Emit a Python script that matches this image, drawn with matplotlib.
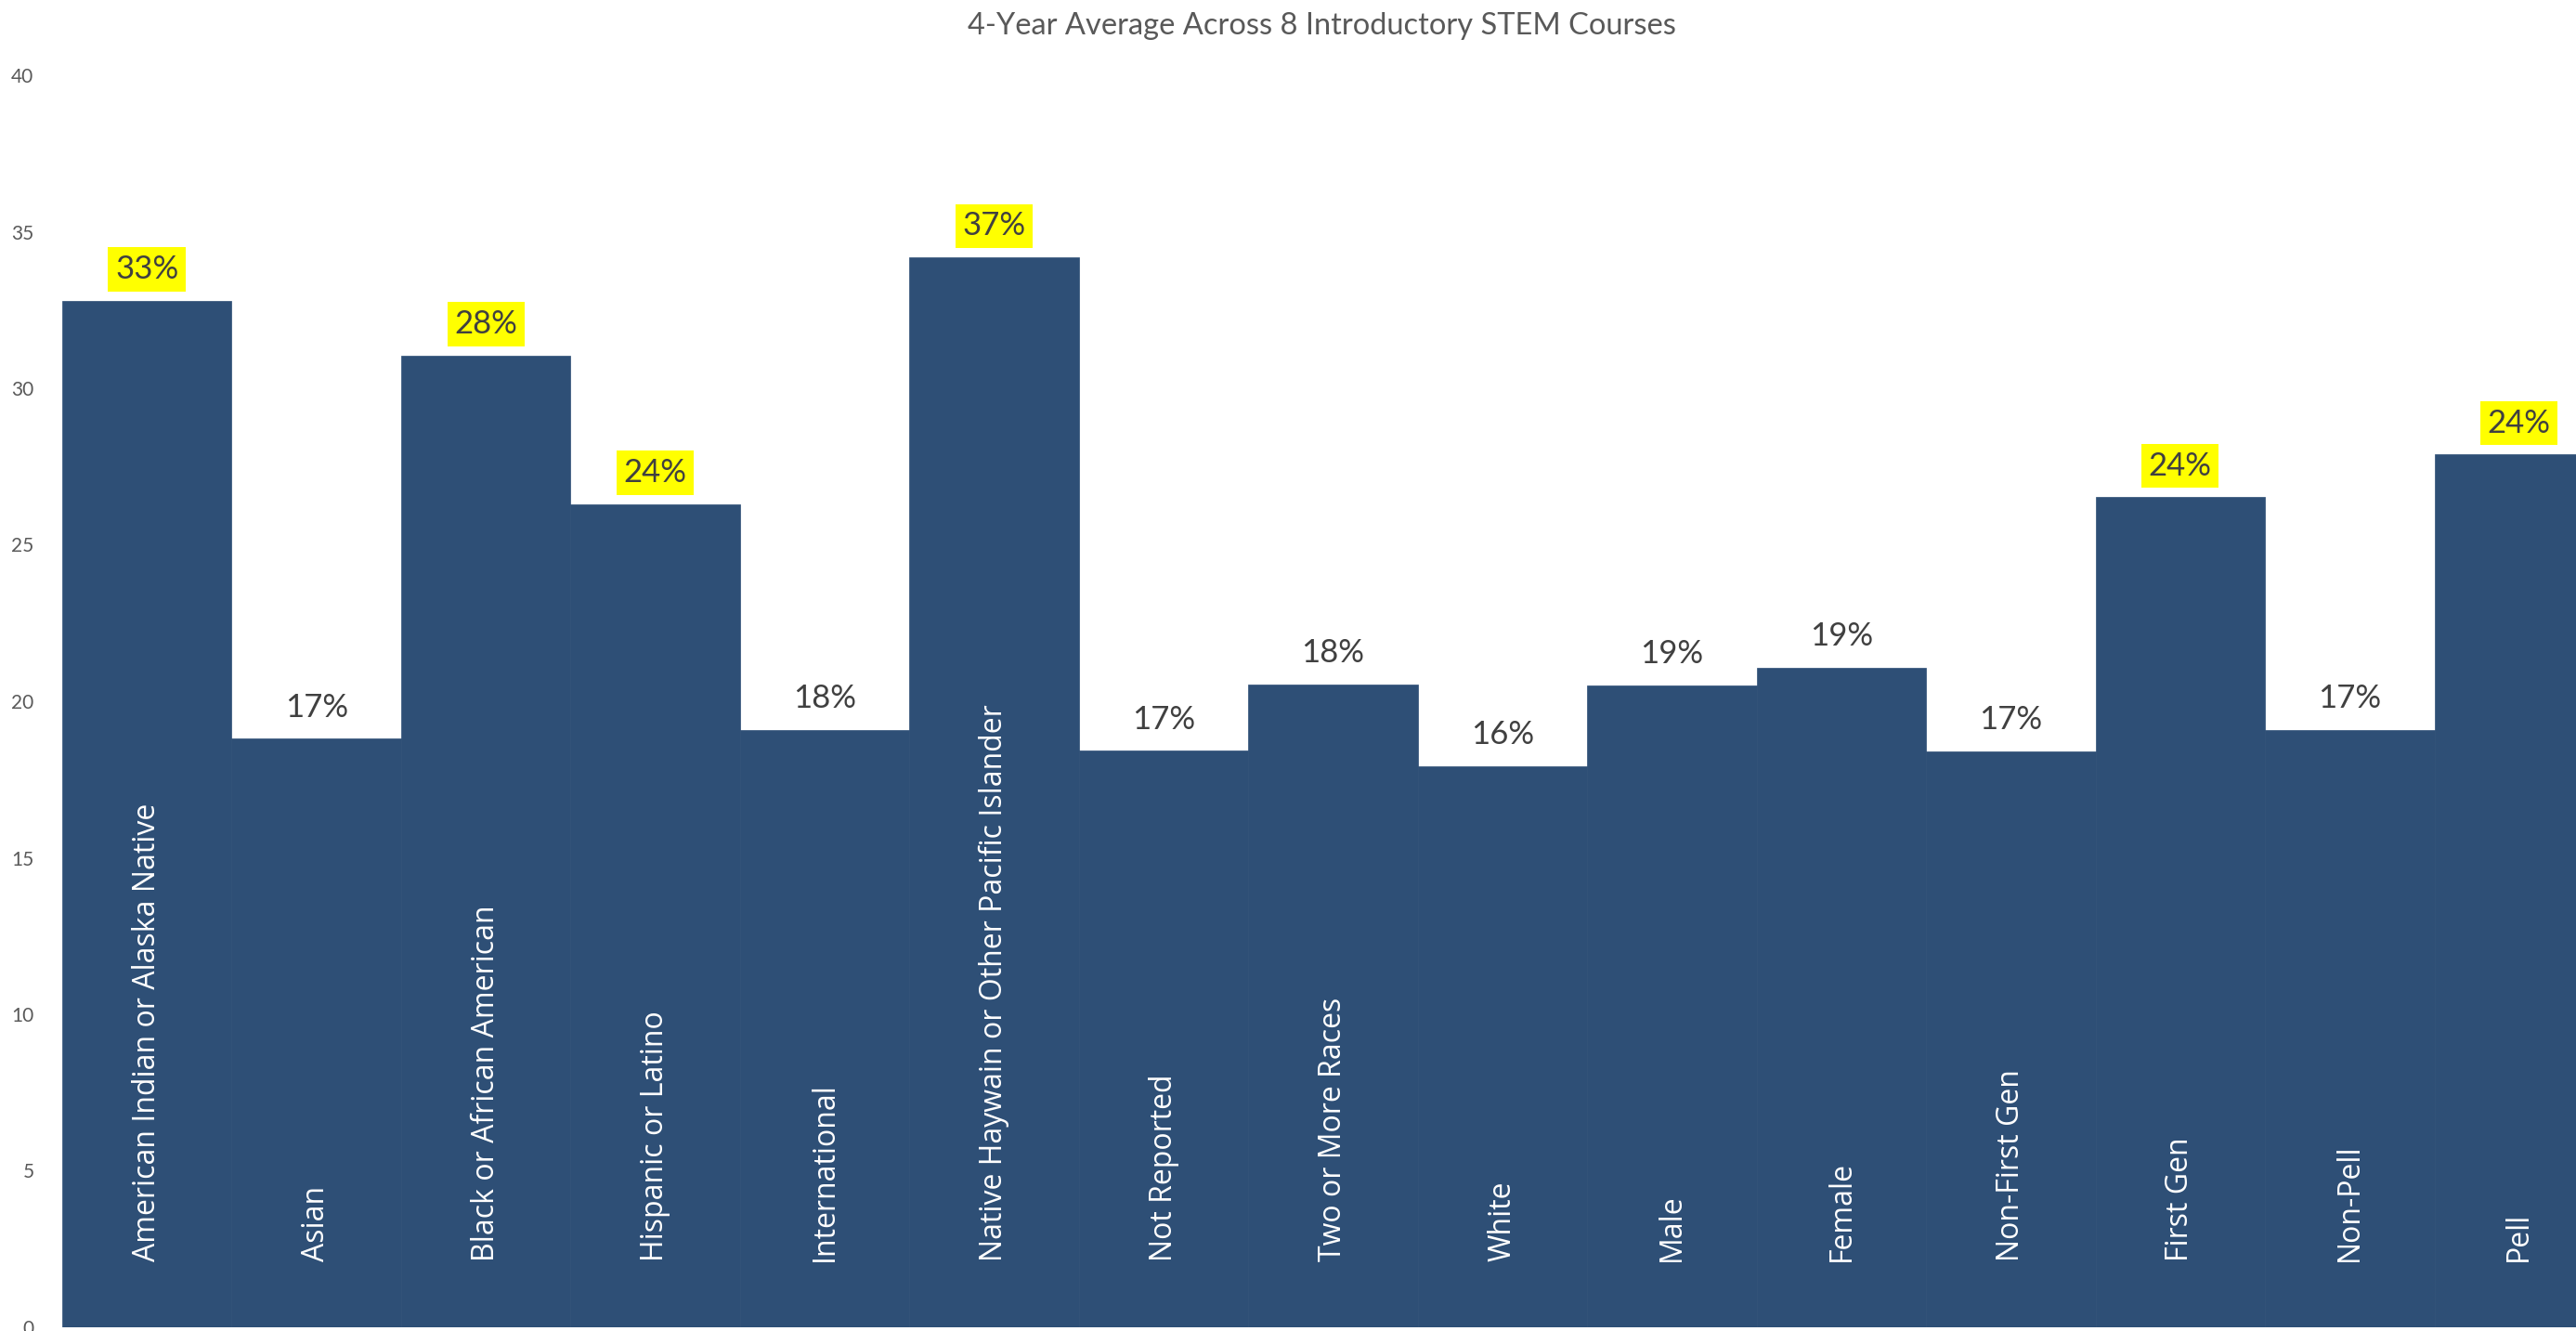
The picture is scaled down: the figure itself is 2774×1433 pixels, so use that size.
import matplotlib
matplotlib.use("Agg")
import matplotlib.pyplot as plt
import numpy as np

# groups shown along the x axis
groups = [
    "American Indian or Alaska Native", "Asian", "Black or African American",
    "Hispanic or Latino", "International", "Native Haywain or Other Pacific Islander",
    "Not Reported", "Two or More Races", "White", "Male", "Female",
    "Non-First Gen", "First Gen", "Non-Pell", "Pell",
]
# bar heights on the 0-40 axis
heights = [32.8, 18.8, 31.05, 26.3, 19.08, 34.18, 18.42, 20.53, 17.92, 20.5,
           21.08, 18.4, 26.52, 19.08, 27.88]
# percentage printed above each bar
pct_labels = ["33%", "17%", "28%", "24%", "18%", "37%", "17%", "18%", "16%",
              "19%", "19%", "17%", "24%", "17%", "24%"]
# which of those percentages get the yellow highlight
highlighted = [True, False, True, True, False, True, False, False, False,
               False, False, False, True, False, True]
y_ticks = [0, 5, 10, 15, 20, 25, 30, 35, 40]

bar_color = "#2E4F76"
text_gray = "#404040"
axis_gray = "#595959"

W, H = 2774, 1433
fig = plt.figure(figsize=(W / 100, H / 100), dpi=100)
# axes runs a little past the right edge so the last bar is cut off
ax = fig.add_axes([67 / W, 4 / H, (2804 - 67) / W, (1429 - 81) / H])

x = np.arange(len(groups))
ax.bar(x, heights, width=1.0, color=bar_color, edgecolor=bar_color, linewidth=0.5)

ax.set_xlim(-0.5, len(groups) - 0.5)
ax.set_ylim(0, 40)
ax.set_yticks(y_ticks)
ax.set_yticklabels([str(t) for t in y_ticks], fontsize=15, color=axis_gray,
                   family="Lato")
ax.tick_params(axis="y", length=0, pad=22)
ax.set_xticks([])
for s in ax.spines.values():
    s.set_visible(False)

# group names written inside the bars
for xi, name in zip(x, groups):
    ax.text(xi, 2.1, name, rotation=90, ha="center", va="bottom",
            color="white", fontsize=23, family="Open Sans")

# percentage labels above the bars
for xi, h, lab, hl in zip(x, heights, pct_labels, highlighted):
    kw = {}
    if hl:
        kw["bbox"] = dict(boxstyle="square,pad=0.22", facecolor="#FFFF00",
                          edgecolor="none")
    ax.text(xi, h + 1.0, lab, ha="center", va="center", color=text_gray,
            fontsize=25, family="Lato", **kw)

fig.text(1423 / W, 1 - 28 / H, "4-Year Average Across 8 Introductory STEM Courses",
         ha="center", va="center", fontsize=23.5, color=axis_gray, family="Lato")

fig.savefig("out.png", dpi=100)
